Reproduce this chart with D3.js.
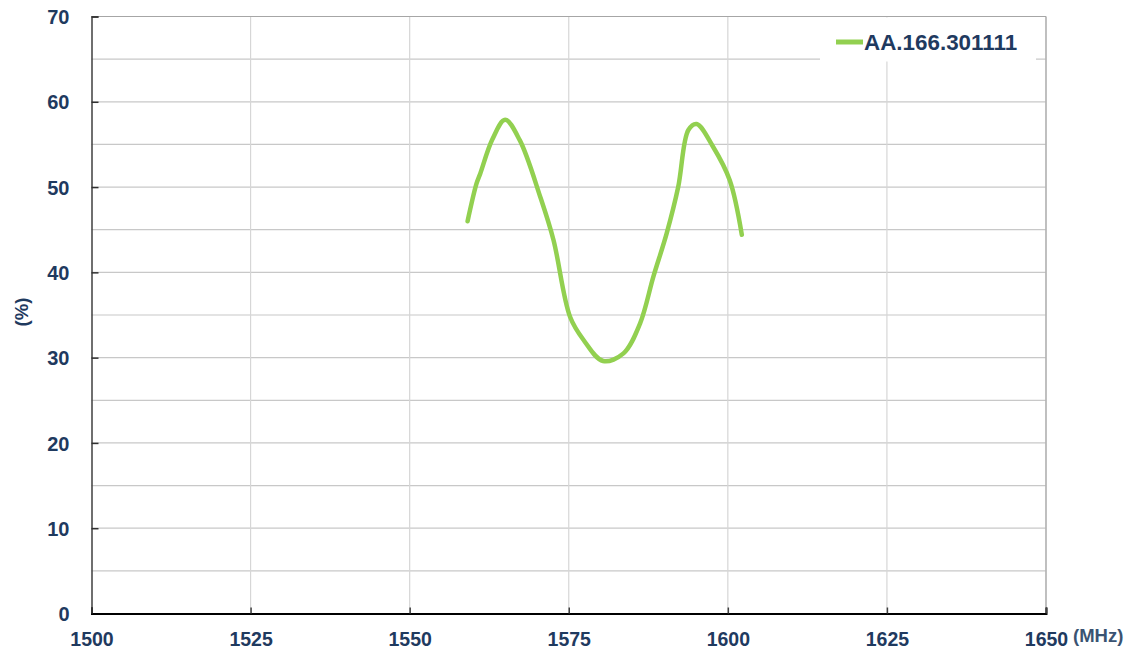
<!DOCTYPE html>
<html lang="en">
  <head>
    <meta charset="UTF-8" />
    <title>Efficiency</title>
    <style>
      body { margin: 0; background: #fff; }
      svg { display: block; }
      text { font-family: "Liberation Sans", Arial, sans-serif; font-weight: bold; fill: #1f3a5f; }
    </style>
  </head>
  <body>
    <div class="container"></div>
    <script src="https://d3js.org/d3.v7.min.js"></script>
    <script>
      // values
      const freq = [1559.1, 1560.5, 1561.1, 1563.0, 1565.0, 1567.3, 1570.5, 1572.6, 1575.2, 1577.3,
                    1580.4, 1583.6, 1586.2, 1588.3, 1590.4, 1592.2, 1593.8, 1595.1, 1597.7, 1600.3, 1602.2];
      const eff = [46.0, 50.4, 51.6, 55.6, 57.9, 55.5, 48.9, 43.8, 34.8, 32.1,
                   29.6, 30.5, 34.0, 39.5, 44.6, 50.0, 56.7, 57.4, 54.7, 50.8, 44.4];
      const xTicks = [1500, 1525, 1550, 1575, 1600, 1625, 1650];
      const yTicks = [0, 10, 20, 30, 40, 50, 60, 70];
      const yMinor = [5, 15, 25, 35, 45, 55, 65];
      const seriesName = "AA.166.301111";

      const w = 1132, h = 655;
      const padL = 91.5, padR = 1046, padT = 16.5, padB = 613.5;

      const xScale = d3.scaleLinear().domain([1500, 1650]).range([padL, padR]);
      const yScale = d3.scaleLinear().domain([0, 70]).range([padB, padT]);

      const svg = d3.select(".container").append("svg")
        .attr("width", w).attr("height", h);

      // grid
      svg.append("g").selectAll("line").data(yTicks.concat(yMinor)).enter().append("line")
        .attr("x1", padL).attr("x2", padR)
        .attr("y1", d => yScale(d)).attr("y2", d => yScale(d))
        .attr("stroke", "#c8c8c8").attr("stroke-width", 1.2);

      svg.append("g").selectAll("line").data(xTicks.slice(1)).enter().append("line")
        .attr("x1", d => xScale(d)).attr("x2", d => xScale(d))
        .attr("y1", padT).attr("y2", padB)
        .attr("stroke", "#d6d6d6").attr("stroke-width", 1.2);

      // plot border top/right
      svg.append("line").attr("x1", padL).attr("x2", padR).attr("y1", padT).attr("y2", padT)
        .attr("stroke", "#a6a6a6").attr("stroke-width", 1.2);
      svg.append("line").attr("x1", padR).attr("x2", padR).attr("y1", padT).attr("y2", padB)
        .attr("stroke", "#a6a6a6").attr("stroke-width", 1.2);

      // legend box (covers the grid)
      svg.append("rect").attr("x", 820).attr("y", padT + 1).attr("width", 216).attr("height", 44)
        .attr("fill", "#fff");
      svg.append("line").attr("x1", 836).attr("x2", 863).attr("y1", 42).attr("y2", 42)
        .attr("stroke", "#92d050").attr("stroke-width", 5);
      svg.append("text").attr("x", 864).attr("y", 50).style("font-size", "22.4px").text(seriesName);

      // axes
      const yAxis = d3.axisLeft(yScale).tickValues(yTicks).tickFormat(d3.format("d"))
        .tickSize(-7).tickPadding(22);
      const gy = svg.append("g").attr("transform", "translate(" + padL + ",0)").call(yAxis);
      gy.attr("font-size", null).attr("font-family", null);
      gy.select(".domain").attr("stroke", "#404040").attr("stroke-width", 1.5);
      gy.selectAll(".tick line").attr("stroke", "#303030").attr("stroke-width", 1.5);
      gy.selectAll(".tick text").style("font-size", "20px").attr("fill", null)
        .attr("dy", "0.36em");

      const xAxis = d3.axisBottom(xScale).tickValues(xTicks).tickFormat(d3.format("d"))
        .tickSize(-6).tickPadding(19);
      const gx = svg.append("g").attr("transform", "translate(0," + padB + ")").call(xAxis);
      gx.attr("font-size", null).attr("font-family", null);
      gx.select(".domain").attr("stroke", "#000").attr("stroke-width", 2);
      gx.selectAll(".tick line").attr("stroke", "#404040").attr("stroke-width", 1.5);
      gx.selectAll(".tick text").style("font-size", "19.5px").attr("fill", null);

      // axis titles
      svg.append("text").attr("x", 1073).attr("y", 642).style("font-size", "18.5px")
        .style("fill", "#3a5372").text("(MHz)");
      svg.append("text").attr("transform", "translate(28,312) rotate(-90)")
        .attr("text-anchor", "middle").style("font-size", "18.5px").text("(%)");

      // series
      const line = d3.line()
        .x((d, i) => xScale(freq[i]))
        .y(d => yScale(d))
        .curve(d3.curveCatmullRom.alpha(0.5));

      svg.append("path").datum(eff)
        .attr("d", line)
        .attr("fill", "none")
        .attr("stroke", "#92d050")
        .attr("stroke-width", 4.5)
        .attr("stroke-linecap", "round")
        .attr("stroke-linejoin", "round");
    </script>
  </body>
</html>
